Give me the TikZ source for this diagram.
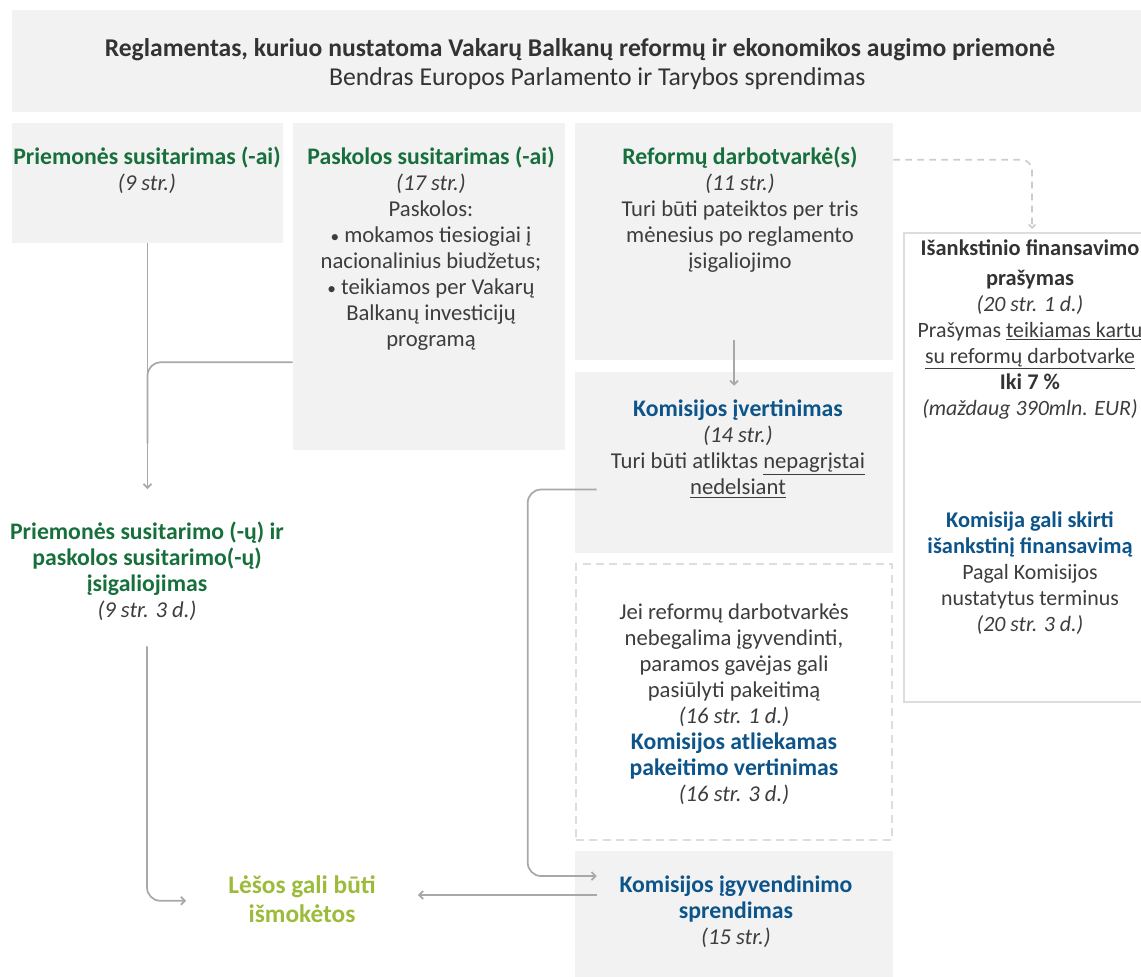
\documentclass[tikz,border=0pt]{standalone}
\usepackage{fontspec}
\setmainfont{Carlito}
\usetikzlibrary{positioning,calc,fit,arrows.meta}

\definecolor{boxgray}{HTML}{F2F2F2}
\definecolor{txtgray}{HTML}{3D3D3D}
\definecolor{titledark}{HTML}{333333}
\definecolor{agrgreen}{HTML}{17703C}
\definecolor{comblue}{HTML}{0C5489}
\definecolor{fundolive}{HTML}{9CBB3A}
\definecolor{linegray}{HTML}{A8A8A8}
\definecolor{dashgray}{HTML}{CCCCCC}
\definecolor{edgegray}{HTML}{DDDDDD}

\newcommand{\tightlines}{\setlength{\lineskiplimit}{-20pt}}
\newcommand{\grn}[1]{{\fontsize{17.8}{19.5}\selectfont\bfseries\color{agrgreen}#1}}
\newcommand{\blu}[1]{{\fontsize{17.8}{19.5}\selectfont\bfseries\color{comblue}#1}}
% narrower column on the right
\newcommand{\rblu}[1]{{\fontsize{16.8}{19.5}\selectfont\bfseries\color{comblue}#1}}
\newcommand{\rdrk}[1]{{\fontsize{16.8}{19.5}\selectfont\bfseries\color{titledark}#1}}
\newcommand{\olv}[1]{{\bfseries\color{fundolive}#1}}
\newcommand{\art}[1]{\textit{#1}}
\newcommand{\dotmark}{{\fontsize{13}{13}\selectfont•}}

\begin{document}
\begin{tikzpicture}[x=0.75pt, y=-0.75pt,
  panel/.style={fill=boxgray, inner sep=0pt},
  dashpanel/.style={draw=edgegray, dash pattern=on 6pt off 4pt, line width=1.5pt, fill=white, inner sep=0pt},
  framepanel/.style={draw=edgegray, line width=1.5pt, fill=white, inner sep=0pt},
  body/.style={align=center, text=txtgray, inner sep=0pt, anchor=north,
    font=\fontsize{17}{19.5}\selectfont\tightlines},
  rbody/.style={body, font=\fontsize{16.4}{19.5}\selectfont\tightlines},
  conn/.style={draw=linegray, line width=1.3pt, rounded corners=10pt},
  tip/.style={-{Straight Barb[length=3pt,width=6pt]}},
  dashconn/.style={draw=dashgray, line width=1.2pt, dash pattern=on 5pt off 4pt, rounded corners=8pt, -{Straight Barb[length=2.5pt,width=5pt]}}
]
\clip (0,0) rectangle (1141,976);

% Header
\node[panel, fit={(12,10) (1150,112)}] (hdr) {};
\node[body, text=titledark, font=\fontsize{19.3}{21.75}\selectfont\tightlines] (hdrtxt) at (580,38)
  {{\bfseries\fontsize{19.2}{21}\selectfont Reglamentas, kuriuo nustatoma Vakarų Balkanų reformų ir ekonomikos augimo priemonė}\\
   \hspace*{26pt}Bendras Europos Parlamento ir Tarybos sprendimas};

% Panels
\node[panel, fit={(12,123) (283,243)}] (agr) {};
\node[panel, fit={(293,123) (565,450)}] (loan) {};
\node[panel, fit={(575,123) (893,360)}] (agenda) {};
\node[panel, fit={(575,372) (893,553)}] (assess) {};
\node[dashpanel, fit={(576,564) (892,840)}] (amend) {};
\node[panel, fit={(575,851) (893,985)}] (decision) {};
\node[framepanel, fit={(904,233) (1160,702)}] (prefin) {};

% Texts
\node[body] (agrtxt) at (147,147) {\grn{Priemonės susitarimas (-ai)}\\ \art{(9 str.)}};
\node[body] (loantxt) at (431,147) {\grn{Paskolos susitarimas (-ai)}\\ \art{(17 str.)}\\ Paskolos:\\
  \dotmark\ mokamos tiesiogiai į\\ nacionalinius biudžetus;\\ \dotmark\ teikiamos per Vakarų\\ Balkanų investicijų\\ programą};
\node[body] (agendatxt) at (740,147) {\grn{Reformų darbotvarkė(s)}\\ \art{(11 str.)}\\ Turi būti pateiktos per tris\\
  mėnesius po reglamento\\ įsigaliojimo};
\node[body] (assesstxt) at (738,400) {\blu{Komisijos įvertinimas}\\ \art{(14 str.)}\\
  Turi būti atliktas \underline{nepagrįstai}\\ \underline{nedelsiant}};
\node[body] (amendtxt) at (734,603) {Jei reformų darbotvarkės\\ nebegalima įgyvendinti,\\ paramos gavėjas gali\\
  pasiūlyti pakeitimą\\ \art{(16 str. 1 d.)}\\ \blu{Komisijos atliekamas}\\ \blu{pakeitimo vertinimas}\\ \art{(16 str. 3 d.)}};
\node[body] (decisiontxt) at (736,876) {\blu{Komisijos įgyvendinimo}\\ \blu{sprendimas}\\ \art{(15 str.)}};
\node[rbody] (prefintxt) at (1030,239) {\rdrk{Išankstinio finansavimo}\\[3pt] \rdrk{prašymas}\\ \art{(20 str. 1 d.)}\\
  Prašymas \underline{teikiamas kartu}\\ \underline{su reformų darbotvarke}\\ \rdrk{Iki 7 \%}\\ \art{(maždaug 390mln. EUR)}};
\node[rbody] (granttxt) at (1030,511) {\rblu{Komisija gali skirti}\\ \rblu{išankstinį finansavimą}\\ Pagal Komisijos\\
  nustatytus terminus\\ \art{(20 str. 3 d.)}};
\node[body] (forcetxt) at (147,522) {\grn{Priemonės susitarimo (-ų) ir}\\ \grn{paskolos susitarimo(-ų)}\\
  \grn{įsigaliojimas}\\ \art{(9 str. 3 d.)}};
\node[body, font=\fontsize{19}{21.75}\selectfont\tightlines] (fundstxt) at (302,875) {\olv{Lėšos gali būti}\\ \olv{išmokėtos}};

% Connectors
\draw[conn, tip] (agr.south) -- ($(agr.south |- forcetxt.north)+(0,-33)$);
\draw[conn] ($(loan.south west)+(0,-88)$) -| ($(agr.south)+(0,200)$);
\draw[conn, tip] ($(forcetxt.south)+(0,25)$) |- ($(fundstxt.west)+(-42,2)$);
\draw[conn, tip] ($(decision.west)+(22,-23)$) -- ($(fundstxt.east |- decision.west)+(42,-23)$);
\draw[conn, tip] ($(assess.west)+(22,27)$) -- ++(-69,0) |- ($(decision.west)+(22,-42)$);
\draw[conn, tip] ($(agenda.south)+(0,-20)$) -- ($(assess.north)+(0,14)$);
\draw[dashconn] ($(agenda.north east)+(0,37)$) -| ($(prefin.north)+(0,-3)$);
\end{tikzpicture}
\end{document}
